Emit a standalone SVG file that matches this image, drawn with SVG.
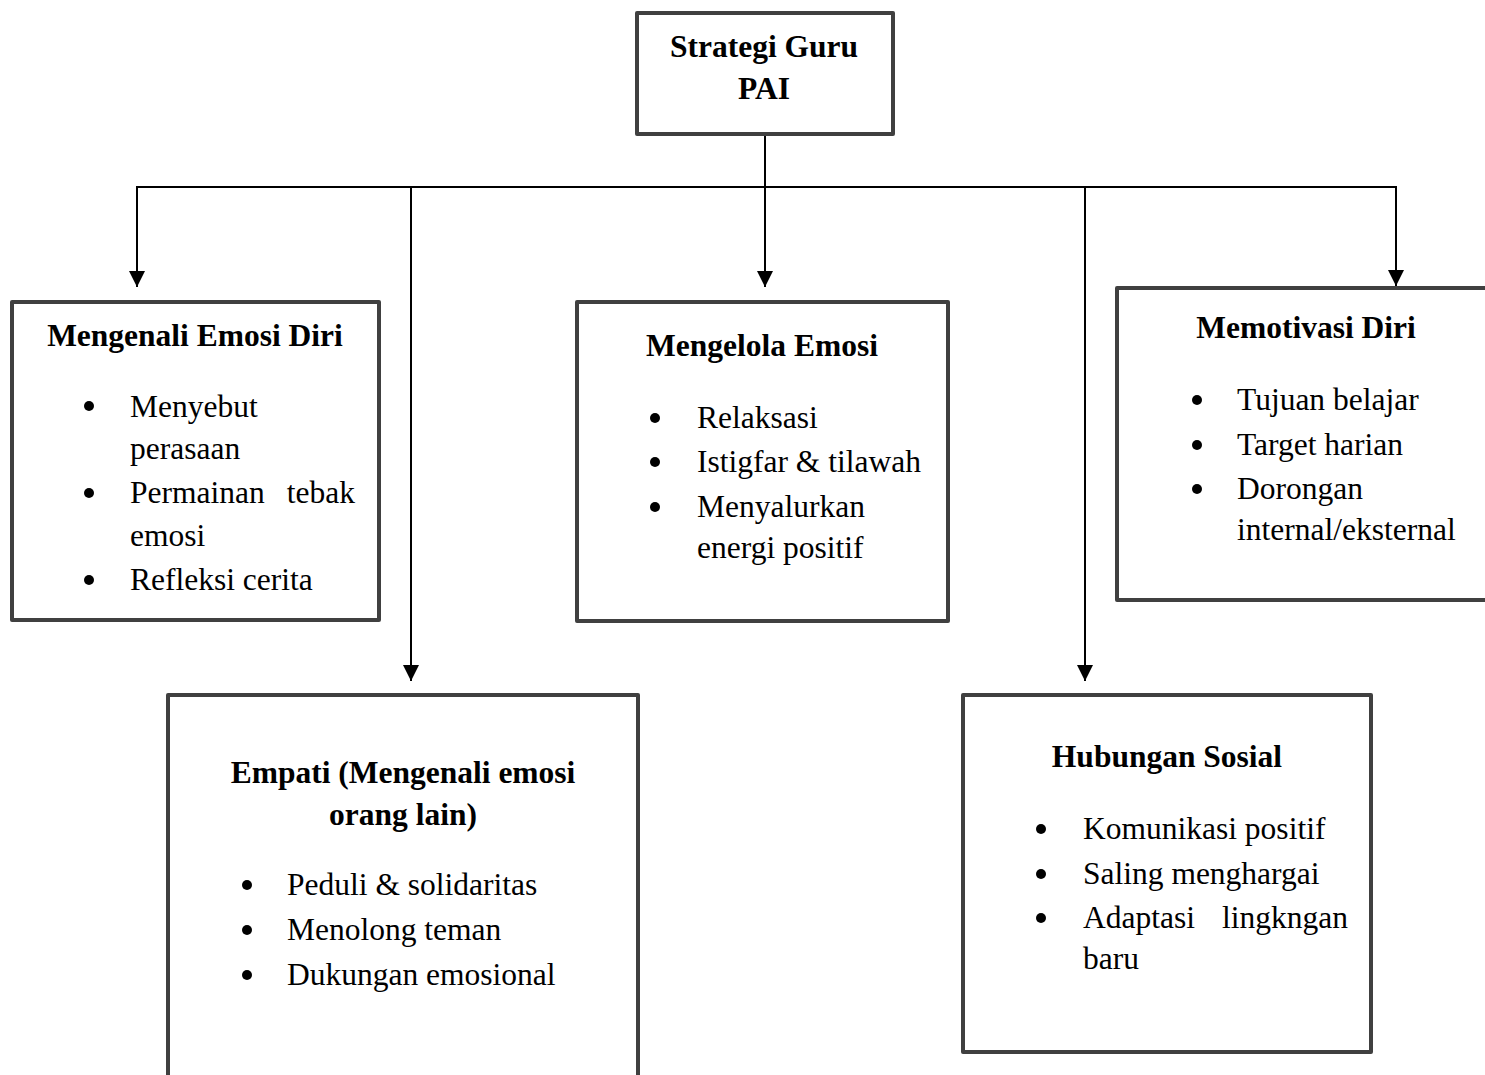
<svg xmlns="http://www.w3.org/2000/svg" width="1485" height="1075" viewBox="0 0 1485 1075">
<style>
.box{fill:#fff;stroke:#404040;stroke-width:4;stroke-linejoin:round}
.t{font-family:"Liberation Serif","Times New Roman",serif;font-size:31.5px;fill:#000}
.b{font-weight:bold;text-anchor:middle}
.c{stroke:#000;stroke-width:2;fill:none}
.dot{fill:#000}
</style>
<defs>
<marker id="ah" markerUnits="userSpaceOnUse" markerWidth="18" markerHeight="18" viewBox="0 0 18 18" refX="17" refY="9" orient="auto">
<path d="M1,1 L17,9 L1,17 Z" fill="#000"/>
</marker>
</defs>
<rect width="1485" height="1075" fill="#fff"/>
<g id="connectors">
<line class="c" x1="765" y1="134" x2="765" y2="187"/>
<line class="c" x1="136" y1="187" x2="1397" y2="187"/>
<line class="c" x1="137" y1="187" x2="137" y2="287" marker-end="url(#ah)"/>
<line class="c" x1="411" y1="187" x2="411" y2="681" marker-end="url(#ah)"/>
<line class="c" x1="765" y1="187" x2="765" y2="287" marker-end="url(#ah)"/>
<line class="c" x1="1085" y1="187" x2="1085" y2="681" marker-end="url(#ah)"/>
<line class="c" x1="1396" y1="187" x2="1396" y2="286" marker-end="url(#ah)"/>
</g>
<g id="root">
<rect class="box" x="637" y="13" width="256" height="121"/>
<text class="t b" x="764" y="57">Strategi Guru</text>
<text class="t b" x="764" y="99">PAI</text>
</g>
<g id="n1">
<rect class="box" x="12" y="302" width="367" height="318"/>
<text class="t b" x="195" y="346">Mengenali Emosi Diri</text>
<circle class="dot" cx="89" cy="406" r="5"/>
<text class="t" x="130" y="417">Menyebut</text>
<text class="t" x="130" y="459">perasaan</text>
<circle class="dot" cx="89" cy="493" r="5"/>
<text class="t" x="130" y="503">Permainan</text>
<text class="t" x="355" y="503" text-anchor="end">tebak</text>
<text class="t" x="130" y="546">emosi</text>
<circle class="dot" cx="89" cy="580" r="5"/>
<text class="t" x="130" y="590">Refleksi cerita</text>
</g>
<g id="n2">
<rect class="box" x="577" y="302" width="371" height="319"/>
<text class="t b" x="762" y="356">Mengelola Emosi</text>
<circle class="dot" cx="655" cy="418" r="5"/>
<text class="t" x="697" y="428">Relaksasi</text>
<circle class="dot" cx="655" cy="462" r="5"/>
<text class="t" x="697" y="472">Istigfar &amp; tilawah</text>
<circle class="dot" cx="655" cy="507" r="5"/>
<text class="t" x="697" y="517">Menyalurkan</text>
<text class="t" x="697" y="558">energi positif</text>
</g>
<g id="n3">
<path class="box" d="M1487,288 L1117,288 L1117,600 L1487,600"/>
<text class="t b" x="1306" y="338">Memotivasi Diri</text>
<circle class="dot" cx="1197" cy="400" r="5"/>
<text class="t" x="1237" y="410">Tujuan belajar</text>
<circle class="dot" cx="1197" cy="445" r="5"/>
<text class="t" x="1237" y="455">Target harian</text>
<circle class="dot" cx="1197" cy="489" r="5"/>
<text class="t" x="1237" y="499">Dorongan</text>
<text class="t" x="1237" y="540">internal/eksternal</text>
</g>
<g id="n4">
<path class="box" d="M168,1080 L168,695 L638,695 L638,1080"/>
<text class="t b" x="403" y="783">Empati (Mengenali emosi</text>
<text class="t b" x="403" y="825">orang lain)</text>
<circle class="dot" cx="247" cy="885" r="5"/>
<text class="t" x="287" y="895">Peduli &amp; solidaritas</text>
<circle class="dot" cx="247" cy="930" r="5"/>
<text class="t" x="287" y="940">Menolong teman</text>
<circle class="dot" cx="247" cy="975" r="5"/>
<text class="t" x="287" y="985">Dukungan emosional</text>
</g>
<g id="n5">
<rect class="box" x="963" y="695" width="408" height="357"/>
<text class="t b" x="1167" y="767">Hubungan Sosial</text>
<circle class="dot" cx="1041" cy="829" r="5"/>
<text class="t" x="1083" y="839">Komunikasi positif</text>
<circle class="dot" cx="1041" cy="874" r="5"/>
<text class="t" x="1083" y="884">Saling menghargai</text>
<circle class="dot" cx="1041" cy="918" r="5"/>
<text class="t" x="1083" y="928">Adaptasi</text>
<text class="t" x="1348" y="928" text-anchor="end">lingkngan</text>
<text class="t" x="1083" y="969">baru</text>
</g>
</svg>
